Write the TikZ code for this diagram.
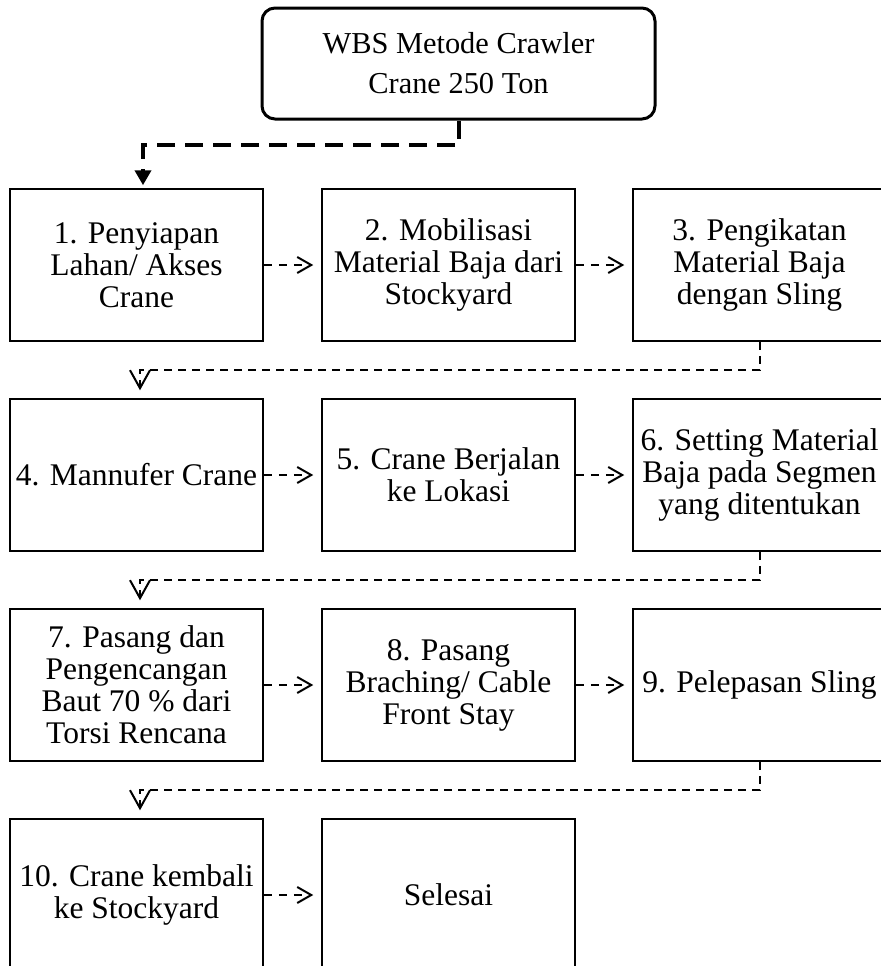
\documentclass[tikz,border=0pt]{standalone}
\usepackage{fontspec}
\setmainfont{Liberation Serif}
\usetikzlibrary{arrows.meta}

\begin{document}
\begin{tikzpicture}[x=0.5pt, y=-0.5pt,
    caixa/.style={draw, line width=0.75pt, minimum width=126.5pt, minimum height=76pt, align=center, inner sep=1pt, font=\fontsize{15.75pt}{16pt}\selectfont},
    titulo/.style={draw, line width=1.5pt, rounded corners=6.5pt, minimum width=196.5pt, minimum height=55.5pt, align=center, font=\fontsize{15.2pt}{20pt}\selectfont},
    seta/.style={line width=1pt, dash pattern=on 4pt off 3.5pt, -{Straight Barb[length=7pt,width=8pt]}, shorten >=4pt},
    desce/.style={line width=1pt, dash pattern=on 4pt off 3pt, -{Straight Barb[length=9pt,width=10pt]}, shorten >=4pt},
    inicio/.style={line width=2pt, dash pattern=on 9pt off 5pt, -{Triangle[length=7.5pt,width=8pt]}, shorten >=1.5pt},
  ]
  \useasboundingbox (0,0) rectangle (881,966); % margens da figura

  \node[titulo] (wbs) at (458.5,63.5) {WBS Metode Crawler\\Crane 250 Ton};

  % linha 1
  \node[caixa] (p1) at (136.5,265) {1. Penyiapan\\Lahan/ Akses\\Crane};
  \node[caixa] (p2) at (448.5,265) {2. Mobilisasi\\Material Baja dari\\Stockyard};
  \node[caixa] (p3) at (759.5,265) {3. Pengikatan\\Material Baja\\dengan Sling};
  % linha 2
  \node[caixa] (p4) at (136.5,475) {4. Mannufer Crane};
  \node[caixa] (p5) at (448.5,475) {5. Crane Berjalan\\ke Lokasi};
  \node[caixa] (p6) at (759.5,475) {6. Setting Material\\Baja pada Segmen\\yang ditentukan};
  % linha 3
  \node[caixa] (p7) at (136.5,685) {7. Pasang dan\\Pengencangan\\Baut 70 \% dari\\Torsi Rencana};
  \node[caixa] (p8) at (448.5,685) {8. Pasang\\Braching/ Cable\\Front Stay};
  \node[caixa] (p9) at (759.5,685) {9. Pelepasan Sling};
  % linha 4
  \node[caixa] (p10) at (136.5,895) {10. Crane kembali\\ke Stockyard};
  \node[caixa] (fim) at (448.5,895) {Selesai};

  % cantos das ligacoes entre linhas
  \coordinate (k0) at (143,145);
  \coordinate (k1) at (140,370);
  \coordinate (k2) at (140,580);
  \coordinate (k3) at (140,790);

  \draw[inicio] (wbs.south) |- (k0) -- (k0 |- p1.north);
  \draw[desce] (p3.south) |- (k1) -- (k1 |- p4.north);
  \draw[desce] (p6.south) |- (k2) -- (k2 |- p7.north);
  \draw[desce] (p9.south) |- (k3) -- (k3 |- p10.north);

  \draw[seta] (p1) -- (p2);
  \draw[seta] (p2) -- (p3);
  \draw[seta] (p4) -- (p5);
  \draw[seta] (p5) -- (p6);
  \draw[seta] (p7) -- (p8);
  \draw[seta] (p8) -- (p9);
  \draw[seta] (p10) -- (fim);
\end{tikzpicture}
\end{document}
